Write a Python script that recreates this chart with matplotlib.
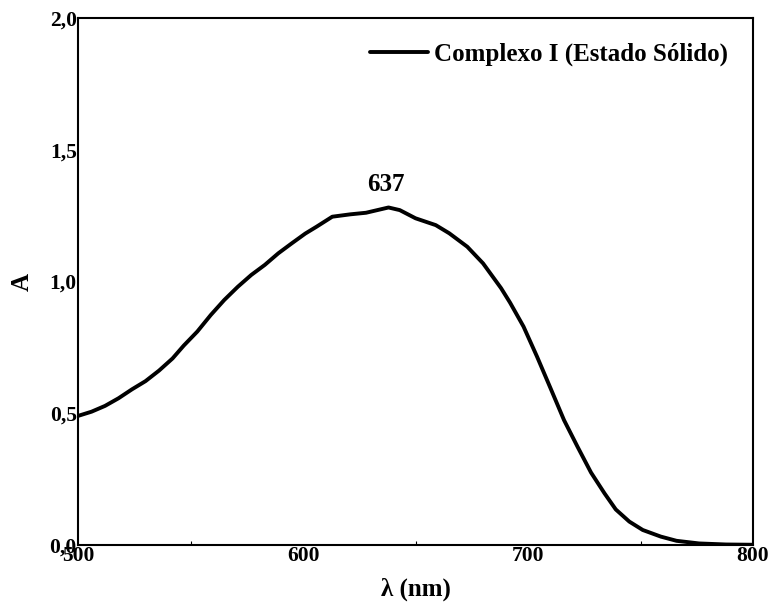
import matplotlib
matplotlib.use("Agg")
import matplotlib.pyplot as plt
from matplotlib.ticker import MultipleLocator, FuncFormatter

# spectrum
wavelength = [500, 506, 512, 518, 524, 530, 536, 542, 547, 553, 559, 565, 571,
              577, 583, 589, 595, 601, 606, 613, 621, 628, 638, 643, 650, 659,
              665, 673, 680, 688, 692, 698, 704, 710, 716, 722, 728, 734, 739,
              745, 751, 759, 766, 776, 788, 800]
absorbance = [0.490, 0.506, 0.528, 0.557, 0.591, 0.622, 0.662, 0.708, 0.757, 0.810,
              0.873, 0.930, 0.980, 1.025, 1.063, 1.107, 1.145, 1.182, 1.208, 1.246,
              1.255, 1.261, 1.281, 1.271, 1.240, 1.214, 1.183, 1.132, 1.069, 0.975,
              0.920, 0.829, 0.715, 0.595, 0.474, 0.373, 0.275, 0.196, 0.135, 0.089,
              0.057, 0.032, 0.016, 0.006, 0.002, 0.001]
series_label = "Complexo I (Estado Sólido)"
peak_label = "637"
peak_pos = (637, 1.37)

plt.rcParams["font.family"] = ["Liberation Serif", "DejaVu Serif"]
plt.rcParams["font.weight"] = "bold"

fig = plt.figure(figsize=(7.71, 6.07), dpi=100)
ax = fig.add_axes([0.1012, 0.1021, 0.8755, 0.8682])

ax.plot(wavelength, absorbance, color="black", lw=2.8, label=series_label,
        solid_joinstyle="round", solid_capstyle="round")
ax.text(peak_pos[0], peak_pos[1], peak_label, ha="center", va="center",
        fontsize=18, fontweight="bold")

ax.set_xlim(500, 800)
ax.set_ylim(0, 2.0)
ax.xaxis.set_major_locator(MultipleLocator(100))
ax.xaxis.set_minor_locator(MultipleLocator(50))
ax.yaxis.set_major_locator(MultipleLocator(0.5))
ax.yaxis.set_major_formatter(FuncFormatter(lambda v, p: f"{v:.1f}".replace(".", ",")))
ax.tick_params(axis="both", which="major", length=0, pad=1, labelsize=15.5)
ax.tick_params(axis="x", which="minor", direction="in", length=3, width=0.8)
for s in ax.spines.values():
    s.set_linewidth(1.5)

ax.set_xlabel("λ (nm)", fontsize=18, fontweight="bold", labelpad=8)
ax.set_ylabel("A", fontsize=18, fontweight="bold", labelpad=11)

leg = ax.legend(loc="upper right", frameon=False, fontsize=18, handlelength=2.3,
                handletextpad=0.25, borderaxespad=0.6)
for t in leg.get_texts():
    t.set_fontweight("bold")

fig.savefig("out.png", dpi=100)
